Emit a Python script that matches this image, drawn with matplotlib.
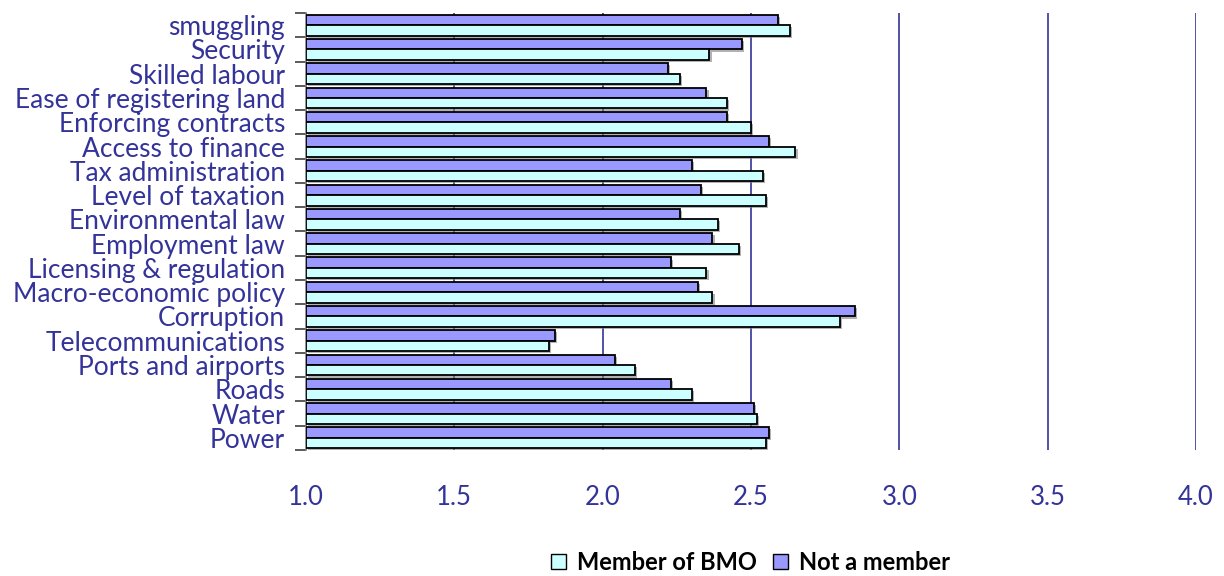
import numpy as np
import matplotlib
matplotlib.use("Agg")
import matplotlib.pyplot as plt
import matplotlib.patheffects as pe
from matplotlib.patches import Patch

# constraint categories, listed top to bottom
categories = ["smuggling", "Security", "Skilled labour", "Ease of registering land",
              "Enforcing contracts", "Access to finance", "Tax administration",
              "Level of taxation", "Environmental law", "Employment law",
              "Licensing & regulation", "Macro-economic policy", "Corruption",
              "Telecommunications", "Ports and airports", "Roads", "Water", "Power"]

not_member = [2.59, 2.47, 2.22, 2.35, 2.42, 2.56, 2.30, 2.33, 2.26, 2.37,
              2.23, 2.32, 2.85, 1.84, 2.04, 2.23, 2.51, 2.56]
member = [2.63, 2.36, 2.26, 2.42, 2.50, 2.65, 2.54, 2.55, 2.39, 2.46,
          2.35, 2.37, 2.80, 1.82, 2.11, 2.30, 2.52, 2.55]

x_ticks = [1.0, 1.5, 2.0, 2.5, 3.0, 3.5, 4.0]

navy = "#333399"
col_member = "#CCFFFF"
col_not = "#9999FF"
font = ["Lato", "DejaVu Sans"]
plt.rcParams["font.family"] = font

fig = plt.figure(figsize=(12.24, 5.76), dpi=100)
ax = fig.add_axes([0.25, 0.2188, 0.7271, 0.7586])

n = len(categories)
y = np.arange(n)[::-1]
h = 0.43
base = 1.0
shadow = [pe.SimplePatchShadow(offset=(1.5, -1.5), shadow_rgbFace="#808080", alpha=0.6),
          pe.Normal()]

b1 = ax.barh(y + h / 2, np.array(not_member) - base, left=base, height=h,
             color=col_not, edgecolor="black", linewidth=1.3, zorder=3)
b2 = ax.barh(y - h / 2, np.array(member) - base, left=base, height=h,
             color=col_member, edgecolor="black", linewidth=1.3, zorder=3)
for bar in list(b1) + list(b2):
    bar.set_path_effects(shadow)

ax.set_xlim(1.0, 4.0)
ax.set_ylim(-0.5, n - 0.5)

ax.set_xticks(x_ticks)
ax.set_xticklabels([f"{v:.1f}" for v in x_ticks], color=navy, fontsize=18.5)
ax.tick_params(axis="x", length=0, pad=25)
ax.xaxis.grid(True, color=navy, linewidth=1.2)
ax.set_axisbelow(True)

ax.set_yticks(y)
ax.set_yticklabels(categories, color=navy, fontsize=19)
ax.tick_params(axis="y", which="major", length=0, pad=15)
ax.set_yticks(np.arange(n + 1) - 0.5, minor=True)
ax.tick_params(axis="y", which="minor", length=8, width=1.2, color="#404040",
               direction="out")

for side in ["top", "right", "bottom"]:
    ax.spines[side].set_visible(False)
ax.spines["left"].set_color("#808080")
ax.spines["left"].set_linewidth(1.2)

handles = [Patch(facecolor=col_member, edgecolor="black", linewidth=1.0, label="Member of BMO"),
           Patch(facecolor=col_not, edgecolor="black", linewidth=1.0, label="Not a member")]
fig.legend(handles=handles, loc="center", bbox_to_anchor=(0.613, 0.024), ncol=2,
           frameon=False, handlelength=0.65, handleheight=0.65, handletextpad=0.45,
           columnspacing=0.7, prop={"family": font, "weight": "bold", "size": 17})

fig.savefig("out.png", dpi=100)
